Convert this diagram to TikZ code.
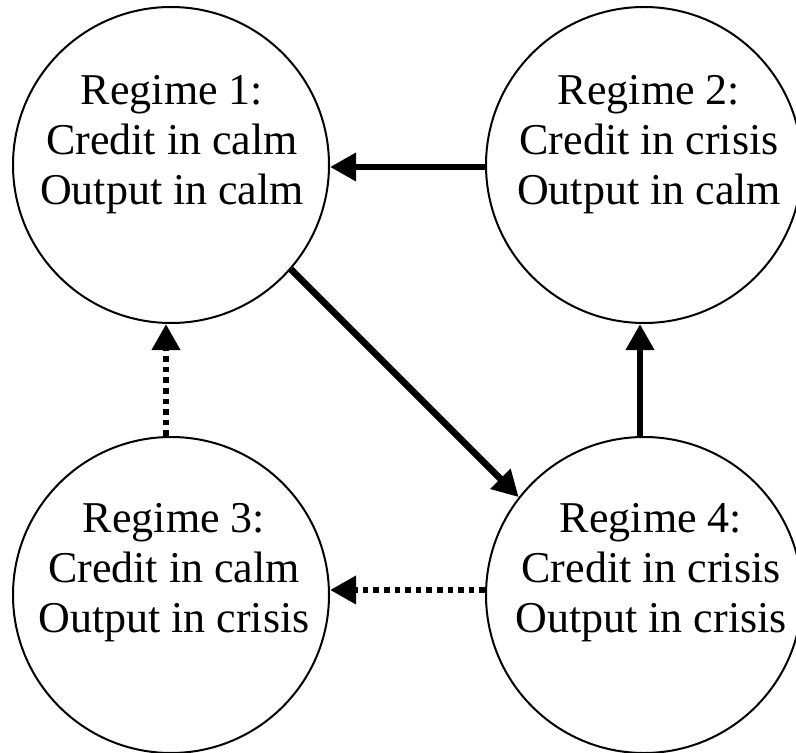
\documentclass[tikz,border=0pt]{standalone}
\usepackage{fontspec}
\setmainfont{Liberation Serif}
\usetikzlibrary{arrows.meta}
\tikzset{
  regime/.style={circle, draw, line width=1pt, inner sep=0pt, minimum size=158pt},
  lbl/.style={align=center, font=\fontsize{22pt}{25pt}\selectfont, inner sep=0pt},
  link/.style={line width=3.4pt, -{Triangle[length=13pt,width=13.5pt]}},
  dotlink/.style={link, dash pattern=on 2.8pt off 2.5pt}
}
\begin{document}
\begin{tikzpicture}[x=0.5pt,y=-0.5pt]
\useasboundingbox (0,0) rectangle (796,753);
\node[regime] (r1) at (171,165) {};
\node[regime] (r2) at (644,165) {};
\node[regime] (r3) at (171,595) {};
\node[regime] (r4) at (644,595) {};
\node[lbl] (t1) at (172,145) {Regime 1:\\Credit in calm\\Output in calm};
\node[lbl] (t2) at (649,145) {Regime 2:\\Credit in crisis\\Output in calm};
\node[lbl] (t3) at (174,573) {Regime 3:\\Credit in calm\\Output in crisis};
\node[lbl] (t4) at (651,573) {Regime 4:\\Credit in crisis\\Output in crisis};
\draw[link] ([yshift=-1pt]r2.west) -- ([yshift=-1pt]r1.east);
\draw[link] (r1.-41.4) -- (r4.142.8);
\draw[link] ([xshift=-2pt]r4.north) -- ([xshift=-2pt]r2.south);
\draw[dotlink] ([xshift=-2.5pt]r3.north) -- ([xshift=-2.5pt]r1.south);
\draw[dotlink] ([yshift=2.5pt]r4.west) -- ([yshift=2.5pt]r3.east);
\end{tikzpicture}
\end{document}
